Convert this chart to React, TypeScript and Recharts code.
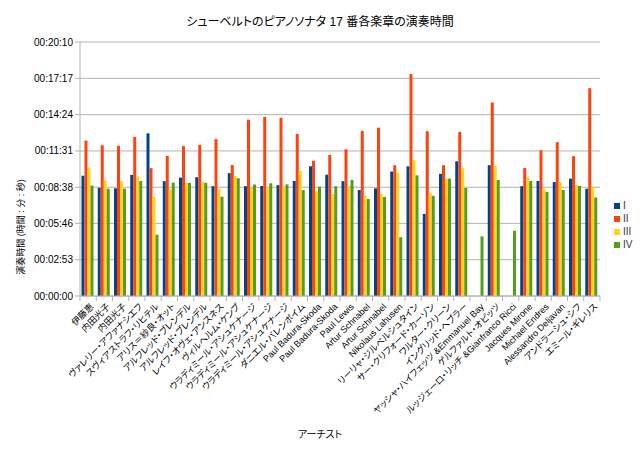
import React from 'react';
import { BarChart, Bar, XAxis, YAxis, CartesianGrid } from 'recharts';

const artists = [
  '伊藤恵', '内田光子', '内田光子', 'ヴァレリー・アファナシエフ', 'スヴィアストラフ・リヒテル',
  'アリス＝紗良・オット', 'アルフレッド・ブレンデル', 'アルフレッド・ブレンデル', 'レイフ・オヴェ・アンスネス',
  'ヴィルヘルム・ケンプ', 'ウラディミール・アシュケナージ', 'ウラディミール・アシュケナージ',
  'ウラディミール・アシュケナージ', 'ダニエル・バレンボイム', 'Paul Badura-Skoda', 'Paul Badura-Skoda',
  'Paul Lewis', 'Artur Schnabel', 'Artur Schnabel', 'Nikolaus Lahusen', 'リーリャ・ジルベルシュタイン',
  'サー・クリフォード・カーゾン', 'ワルター・クリーン', 'イングリッド・ヘブラー',
  'ヤッシャ・ハイフェッツ &Emmanuel Bay', 'ゲルファルト・オピッツ', 'ルッジェーロ・リッチ &Gianfranco Ricci',
  'Jacques Mirone', 'Michael Endres', 'Alessandro Deljavan', 'アンドラーシュ・シフ', 'エミール・ギレリス',
];

// seconds per movement
const mvtI = [573, 516, 513, 577, 775, 547, 564, 566, 523, 585, 523, 524, 528, 548, 618, 578, 547, 505, 513, 593, 618, 391, 582, 642, null, 623, null, 523, 548, 543, 559, 511];
const mvtII = [740, 718, 715, 758, 609, 667, 714, 720, 748, 624, 840, 853, 849, 772, 644, 672, 699, 787, 802, 623, 1057, 785, 623, 782, null, 922, null, 610, 694, 733, 666, 990];
const mvtIII = [612, 551, 548, 569, 472, 507, 539, 543, 510, 572, 521, 521, 524, 596, 500, 486, 524, 477, 485, 588, 648, 489, 559, 610, null, 620, null, 566, 511, 543, 528, 521];
const mvtIV = [526, 511, 511, 548, 292, 540, 539, 539, 473, 561, 531, 537, 532, 504, 521, 523, 553, 462, 472, 280, 575, 477, 559, 515, 284, 553, 311, 548, 496, 505, 524, 469];

const yTicks = [0, 173, 346, 518, 691, 864, 1037, 1210];

const series = [
  { key: 'I', color: '#004586' },
  { key: 'II', color: '#ff420e' },
  { key: 'III', color: '#ffd320' },
  { key: 'IV', color: '#579d1c' },
];

const data = artists.map((name, i) => ({
  name,
  I: mvtI[i],
  II: mvtII[i],
  III: mvtIII[i],
  IV: mvtIV[i],
}));

const FONT = '"Liberation Sans", "Noto Sans CJK JP", sans-serif';
const PALT = { fontFeatureSettings: '"palt"' };
const BAND = 520 / artists.length;

const pad = (n: number) => String(n).padStart(2, '0');
const fmtTime = (s: number) => `${pad(Math.floor(s / 3600))}:${pad(Math.floor((s % 3600) / 60))}:${pad(s % 60)}`;

const XTick = (props: any) => {
  const { x, y, payload, index } = props;
  return (
    <g>
      <line x1={x - BAND / 2} x2={x - BAND / 2} y1={y - 8} y2={y - 3} stroke="#b3b3b3" />
      {index === artists.length - 1 && (
        <line x1={x + BAND / 2} x2={x + BAND / 2} y1={y - 8} y2={y - 3} stroke="#b3b3b3" />
      )}
      <g transform={`translate(${x + 4},${y + 1})`}>
        <text transform="rotate(-45)" textAnchor="end" dy="0.35em" fontSize={9} fill="#000" fontFamily={FONT} style={PALT}>
          {payload.value}
        </text>
      </g>
    </g>
  );
};

export default function App() {
  return (
    <div style={{ position: 'absolute', left: 0, top: 0, width: 640, height: 449, background: '#fff' }}>
      <div style={{ position: 'absolute', top: 12, width: 640, textAlign: 'center', fontFamily: FONT, fontSize: 12, color: '#000', ...PALT }}>
        シューベルトのピアノソナタ 17 番各楽章の演奏時間
      </div>
      <div style={{ position: 'absolute', top: 426, width: 640, textAlign: 'center', fontFamily: FONT, fontSize: 10, color: '#000', ...PALT }}>
        アーチスト
      </div>
      <div style={{ position: 'absolute', left: 614, top: 199, fontFamily: FONT, fontSize: 10, lineHeight: '13px' }}>
        {series.map(s => (
          <div key={s.key} style={{ display: 'flex', alignItems: 'center', height: 13 }}>
            <span style={{ width: 6, height: 6, background: s.color, display: 'inline-block', marginRight: 3 }} />
            <span style={{ color: '#333' }}>{s.key}</span>
          </div>
        ))}
      </div>
      <BarChart
        width={640}
        height={449}
        data={data}
        margin={{ top: 42, right: 40, left: 0, bottom: 43 }}
        barCategoryGap={1.5}
        barGap={0}
      >
        <CartesianGrid vertical={false} stroke="#b3b3b3" />
        <XAxis
          dataKey="name"
          interval={0}
          tick={<XTick />}
          tickLine={false}
          axisLine={{ stroke: '#b3b3b3' }}
          height={110}
        />
        <YAxis
          domain={[0, 1210]}
          ticks={yTicks}
          tickFormatter={fmtTime}
          width={80}
          tickSize={5}
          tickMargin={2}
          interval={0}
          axisLine={{ stroke: '#b3b3b3' }}
          tickLine={{ stroke: '#b3b3b3' }}
          tick={{ fontSize: 10, fill: '#000', fontFamily: FONT }}
          label={{
            content: () => (
              <text transform="translate(21,227) rotate(-90)" textAnchor="middle" dy="0.35em" fontSize={9} fill="#000" fontFamily={FONT} style={PALT}>
                演奏時間 (時間 : 分 : 秒)
              </text>
            ),
          }}
        />
        <YAxis
          yAxisId="r"
          orientation="right"
          domain={[0, 1210]}
          tick={false}
          tickLine={false}
          width={0}
          axisLine={{ stroke: '#b3b3b3' }}
        />
        {series.map(s => (
          <Bar key={s.key} dataKey={s.key} fill={s.color} isAnimationActive={false} />
        ))}
      </BarChart>
    </div>
  );
}
